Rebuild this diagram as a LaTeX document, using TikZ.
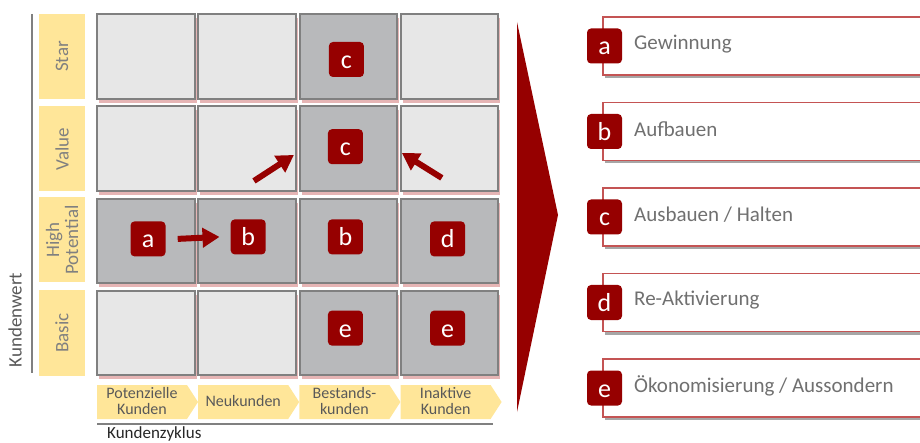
\documentclass[tikz,border=0pt]{standalone}
\usepackage{fontspec}
\setmainfont{Carlito}
\usetikzlibrary{arrows.meta,calc,shadows}

\definecolor{badgered}{RGB}{150,0,0}
\definecolor{cellborder}{RGB}{128,128,128}
\definecolor{celllight}{RGB}{231,231,231}
\definecolor{celldark}{RGB}{184,185,187}
\definecolor{labelyellow}{RGB}{255,230,153}
\definecolor{labeltext}{RGB}{128,128,128}
\definecolor{stagetext}{RGB}{89,89,89}
\definecolor{itemtext}{RGB}{112,112,112}
\definecolor{boxred}{RGB}{196,84,84}
\definecolor{glow}{RGB}{220,150,150}

\begin{document}
\begin{tikzpicture}[x=1pt,y=-1pt,
    cell/.style={draw=cellborder, line width=2, minimum width=97.5, minimum height=84.5, inner sep=0,
        drop shadow={shadow xshift=2pt, shadow yshift=-4pt, fill=glow, opacity=0.7}},
    light/.style={cell, fill=celllight},
    dark/.style={cell, fill=celldark},
    badge/.style={fill=badgered, rounded corners=4, minimum size=35, inner sep=0,
        text=white, text height=18pt, text depth=0pt, font=\fontsize{26}{26}\selectfont},
    rowlabel/.style={fill=labelyellow, minimum width=85, minimum height=46, inner sep=0,
        rotate=90, align=center, text=labeltext, font=\fontsize{19}{19}\selectfont},
    stage/.style={align=center, inner sep=0, text=stagetext, font=\fontsize{16}{16}\selectfont},
    item/.style={draw=boxred, line width=1.5, fill=white, anchor=west, minimum width=330, minimum height=58,
        drop shadow={shadow xshift=2pt, shadow yshift=-3pt, fill=black, opacity=0.35}},
    itemlabel/.style={anchor=west, inner sep=0, text=itemtext, font=\fontsize{21}{21}\selectfont},
    axis/.style={cellborder, line width=1.5},
    flow/.style={-{Triangle[length=17pt,width=19pt]}, line width=6, badgered}
]
    \useasboundingbox (0,0) rectangle (920,443);

    % axes
    \draw[axis] (32,14) -- (32,373);
    \node[rotate=90, text=stagetext, font=\fontsize{19}{19}\selectfont] (kw) at (15,320) {Kundenwert};
    \draw[axis] (97,424) -- (493,424);
    \node[anchor=base west, inner sep=0, text=black!85, font=\fontsize{17}{17}\selectfont] (kz) at (107,438.5) {Kundenzyklus};

    % row labels
    \node[rowlabel] (star)  at (62,56.5) {Star};
    \node[rowlabel] (value) at (62,149)  {Value};
    \node[rowlabel] (high)  at (62,240)  {High\\Potential};
    \node[rowlabel] (basic) at (62,333)  {Basic};

    % stages
    \foreach \i/\txt in {0/{Potenzielle\\Kunden}, 1/Neukunden, 2/{Bestands-\\kunden}, 3/{Inaktive\\Kunden}} {
        \pgfmathsetmacro{\xl}{97+101.2*\i}
        \fill[labelyellow] (\xl,385) -- ++(90,0) -- ++(11,17) -- ++(-11,17) -- ++(-90,0) -- cycle;
        \node[stage] (k\i) at (\xl+45,401) {\txt};
    }

    % matrix
    \foreach \r/\c/\kind in {0/0/light,0/1/light,0/2/dark,0/3/light,
                             1/0/light,1/1/light,1/2/dark,1/3/light,
                             2/0/dark,2/1/dark,2/2/dark,2/3/dark,
                             3/0/light,3/1/light,3/2/dark,3/3/dark} {
        \node[\kind] (c\r\c) at ({146+101.2*\c},{56.5+92.2*\r}) {};
    }

    % strategies in the matrix
    \node[badge] (b02) at ([shift={(-2,3)}]c02)  {c};
    \node[badge] (b12) at ([shift={(-3,-2)}]c12) {c};
    \node[badge] (b20) at ([shift={(2,-2)}]c20)  {a};
    \node[badge] (b21) at ([shift={(1,-4)}]c21)  {b};
    \node[badge] (b22) at ([shift={(-3,-4)}]c22) {b};
    \node[badge] (b23) at ([shift={(-2,-2)}]c23) {d};
    \node[badge] (b32) at ([shift={(-3,-5)}]c32) {e};
    \node[badge] (b33) at ([shift={(-2,-5)}]c33) {e};

    \draw[flow] ([xshift=12pt]b20.east) -- ([xshift=-11pt]b21.west);
    \draw[flow] ([shift={(-43,-11)}]c11.south east) -- ([shift={(-3,-37)}]c11.south east);
    \draw[flow] ([shift={(42,-14)}]c13.south west) -- ([shift={(2,-39)}]c13.south west);

    % big arrow
    \fill[badgered] (517,22) -- (558,215) -- (517,412) -- cycle;

    % legend
    \foreach \l/\txt [count=\k from 0] in {a/Gewinnung, b/Aufbauen, c/{Ausbauen / Halten},
                                           d/Re-Aktivierung, e/{Ökonomisierung / Aussondern}} {
        \node[item] (s\l) at (602,{46+85.5*\k}) {};
        \node[badge] (l\l) at (604.5,{46+85.5*\k}) {\l};
        \node[itemlabel] (t\l) at (634,{44+85.5*\k}) {\txt};
    }

\end{tikzpicture}
\end{document}
